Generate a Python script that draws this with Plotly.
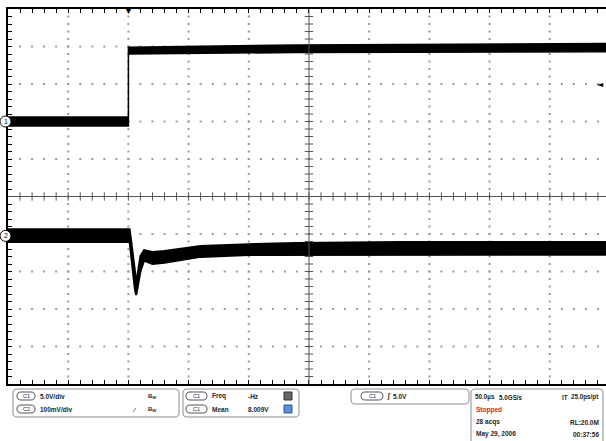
import plotly.graph_objects as go

# ---------------- scope settings ----------------
W, H = 606, 441
PL, PT, PR, PB = 8, 9, 0, 57
PW, PH = W - PL - PR, H - PT - PB

t_left = -100.0          # us, trigger at 2 div from the left
t_right = 396.7          # us, visible part of the screen
t_div = 50.0             # us/div
n_vdiv = 10

ch1_scale = 5.0          # V/div
ch1_pos = 2.0            # div
ch2_scale = 100.0        # mV/div
ch2_pos = -1.05          # div
trig_level = 5.0         # V (ch1)

# ---------------- waveform envelopes ----------------
# Channel 1 (V)
ch1_t     = [-100, 0, 0, 60, 140, 396.7]
ch1_upper = [0.6, 0.6, 9.9, 10.0, 10.2, 10.4]
ch1_lower = [-0.6, -0.6, 9.0, 9.1, 9.2, 9.3]

# Channel 2 (mV)
ch2_t     = [-100, 1, 2, 4, 5.5, 6.5, 7.5, 10, 13, 16, 20, 30, 45, 60, 100, 140, 225, 396.7]
ch2_upper = [18, 18, -6, -51, -96, -123, -107, -54, -38, -40, -43, -40, -33, -27, -22, -19, -16, -16]
ch2_lower = [-16, -16, -43, -100, -145, -158, -148, -95, -66, -70, -75, -72, -64, -56, -51, -51, -50, -50]

# ---------------- axis ranges ----------------
y1_range = [(-n_vdiv / 2 - ch1_pos) * ch1_scale, (n_vdiv / 2 - ch1_pos) * ch1_scale]
y2_range = [(-n_vdiv / 2 - ch2_pos) * ch2_scale, (n_vdiv / 2 - ch2_pos) * ch2_scale]
t_center = t_left + 5 * t_div
y_center = (y1_range[0] + y1_range[1]) / 2

fig = go.Figure()

# ---------------- graticule dots ----------------
gx, gy = [], []
minor_t = [t_left + i * t_div / 5 for i in range(0, 50) if t_left + i * t_div / 5 <= t_right]
minor_v = [y1_range[0] + i * ch1_scale / 5 for i in range(1, 50)]
for k in range(1, 10):
    if k == 5:
        continue
    tx = t_left + k * t_div
    for v in minor_v:
        gx.append(tx); gy.append(v)
    vy = y1_range[0] + k * ch1_scale
    for tt in minor_t[1:]:
        gx.append(tt); gy.append(vy)
fig.add_trace(go.Scatter(x=gx, y=gy, mode="markers", hoverinfo="skip",
                         marker=dict(symbol="square", size=2, color="#9a9a9a", line=dict(width=0)),
                         showlegend=False))

# center cross ticks
fig.add_trace(go.Scatter(x=minor_t[1:], y=[y_center] * len(minor_t[1:]), mode="markers", hoverinfo="skip",
                         marker=dict(symbol="line-ns", size=6, line=dict(color="#555", width=1)),
                         showlegend=False))
fig.add_trace(go.Scatter(x=[t_center] * len(minor_v), y=minor_v, mode="markers", hoverinfo="skip",
                         marker=dict(symbol="line-ew", size=6, line=dict(color="#555", width=1)),
                         showlegend=False))

# ---------------- waveforms ----------------
fig.add_trace(go.Scatter(x=ch1_t + ch1_t[::-1], y=ch1_upper + ch1_lower[::-1],
                         fill="toself", fillcolor="black", mode="lines",
                         line=dict(color="black", width=1.5), yaxis="y", showlegend=False))
fig.add_trace(go.Scatter(x=ch2_t + ch2_t[::-1], y=ch2_upper + ch2_lower[::-1],
                         fill="toself", fillcolor="black", mode="lines",
                         line=dict(color="black", width=2), yaxis="y2", showlegend=False))

# ---------------- helpers for decorations (pixel -> paper) ----------------
def px(x):
    return (x - PL) / PW

def py(y):
    return (H - PB - y) / PH

def rrect(x0, y0, x1, y1, r):
    pts = [("M", x0 + r, y0), ("L", x1 - r, y0), ("Q", x1, y0, x1, y0 + r), ("L", x1, y1 - r),
           ("Q", x1, y1, x1 - r, y1), ("L", x0 + r, y1), ("Q", x0, y1, x0, y1 - r),
           ("L", x0, y0 + r), ("Q", x0, y0, x0 + r, y0)]
    s = ""
    for p in pts:
        cmd = p[0]
        coords = p[1:]
        parts = []
        for i in range(0, len(coords), 2):
            parts.append(f"{px(coords[i]):.5f},{py(coords[i+1]):.5f}")
        s += cmd + " " + " ".join(parts) + " "
    return s + "Z"

shapes = []
annots = []
TXT = "#1e1e28"
FONT = "Liberation Sans"

def box(x0, y0, x1, y1, r=4, color="#8c8c8c", fill=None, width=1):
    shapes.append(dict(type="path", path=rrect(x0, y0, x1, y1, r), xref="paper", yref="paper",
                       line=dict(color=color, width=width), fillcolor=fill if fill else "rgba(0,0,0,0)",
                       layer="above"))

def text(x, y, s, size=6.5, anchor="left", color=TXT, bold=True):
    annots.append(dict(x=px(x), y=py(y), xref="paper", yref="paper", text=f"<b>{s}</b>" if bold else s,
                       showarrow=False, xanchor=anchor, yanchor="middle",
                       font=dict(family=FONT, size=size, color=color)))

def pill(x0, y0, x1, y1, label):
    box(x0, y0, x1, y1, r=(y1 - y0) / 2, color="#555", fill="white")
    text((x0 + x1) / 2, (y0 + y1) / 2, label, size=5.5, anchor="center", bold=False)

# center lines
shapes.append(dict(type="line", xref="x", yref="paper", x0=t_center, x1=t_center, y0=0, y1=1,
                   line=dict(color="#555", width=1)))
shapes.append(dict(type="line", xref="paper", yref="y", x0=0, x1=1, y0=y_center, y1=y_center,
                   line=dict(color="#555", width=1)))

# ground markers
for gyv, lab in [((0 - y1_range[0]) / (y1_range[1] - y1_range[0]), "1"),
                 ((0 - y2_range[0]) / (y2_range[1] - y2_range[0]), "2")]:
    cy = H - PB - gyv * PH
    shapes.append(dict(type="circle", xref="paper", yref="paper",
                       x0=px(0), x1=px(11), y0=py(cy + 5.5), y1=py(cy - 5.5),
                       line=dict(color="black", width=1), fillcolor="white", layer="above"))
    annots.append(dict(x=px(5.5), y=py(cy), xref="paper", yref="paper", text=lab, showarrow=False,
                       xanchor="center", yanchor="middle", font=dict(family=FONT, size=7, color="black")))

# trigger position and level markers
annots.append(dict(x=0, y=1, xref="x", yref="paper", text="▼", showarrow=False, xanchor="center",
                   yanchor="middle", yshift=-1, font=dict(family="DejaVu Sans", size=9, color="black")))
annots.append(dict(x=1, y=trig_level, xref="paper", yref="y", text="◄", showarrow=False, xanchor="right",
                   yanchor="middle", font=dict(family="DejaVu Sans", size=8, color="black")))

# ---------------- bottom readout panel ----------------
box(13, 389, 179, 417)
pill(17, 392, 35, 400, "C1")
pill(17, 405, 35, 413, "C2")
text(38, 396, "5.0V/div")
text(38, 409, "100mV/div")
text(146, 396, "B<sub>W</sub>", size=6)
text(146, 409, "B<sub>W</sub>", size=6)
text(130, 410, "⁄", size=6)

box(183, 389, 299, 417)
pill(186, 392, 207, 400, "C1")
pill(186, 405, 207, 413, "C1")
text(210, 396, "Freq")
text(246, 396, "-Hz")
text(210, 409, "Mean")
text(246, 409, "8.009V")
shapes.append(dict(type="rect", xref="paper", yref="paper", x0=px(284), x1=px(292), y0=py(400), y1=py(392),
                   line=dict(color="#333", width=1), fillcolor="#666"))
shapes.append(dict(type="rect", xref="paper", yref="paper", x0=px(284), x1=px(292), y0=py(413), y1=py(405),
                   line=dict(color="#2c5a9a", width=1), fillcolor="#5b8fd0"))

box(351, 389, 469, 404)
pill(361, 392, 383, 400, "C1")
text(385, 396, "∫", size=7)
text(391, 396, "5.0V")

box(471, 389, 603, 446)
text(473, 397, "50.0µs", size=6.3)
text(497, 397, "5.0GS/s", size=6.3)
text(560, 397, "IT", size=6.3)
text(601, 397, "25.0ps/pt", anchor="right", size=6.3)
text(474, 410, "Stopped", color="#e0201c")
text(474, 422, "28 acqs")
text(601, 422, "RL:20.0M", anchor="right")
text(474, 434, "May 29, 2006")
text(601, 434, "00:37:56", anchor="right")

# ---------------- layout ----------------
fig.update_layout(
    width=W, height=H, margin=dict(l=PL, r=PR, t=PT, b=PB, pad=0),
    paper_bgcolor="white", plot_bgcolor="white", showlegend=False,
    xaxis=dict(range=[t_left, t_right], showgrid=False, zeroline=False, showticklabels=False,
               ticks="inside", tick0=t_left, dtick=t_div / 5, ticklen=4, tickwidth=1, tickcolor="black",
               showline=True, linewidth=2, linecolor="black", mirror="ticks", fixedrange=True),
    yaxis=dict(range=y1_range, showgrid=False, zeroline=False, showticklabels=False,
               ticks="inside", tick0=y1_range[0], dtick=ch1_scale / 5, ticklen=4, tickwidth=1,
               tickcolor="black", showline=True, linewidth=2, linecolor="black", mirror=False,
               fixedrange=True),
    yaxis2=dict(range=y2_range, overlaying="y", visible=False, fixedrange=True),
    shapes=shapes, annotations=annots,
)

fig.write_html("out.html", config={"displayModeBar": False},
               post_script="document.body.style.margin='0';document.body.style.padding='0';")
